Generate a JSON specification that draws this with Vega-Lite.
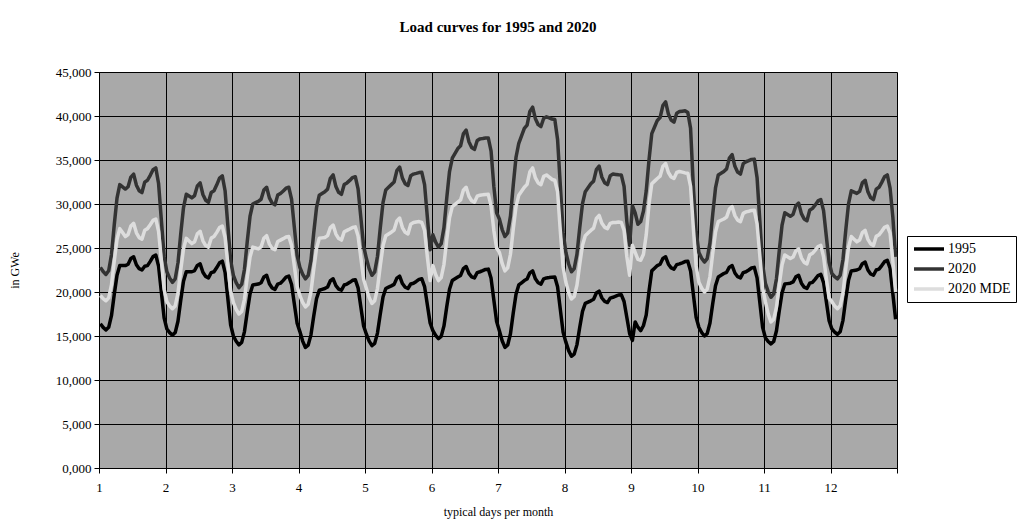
{
"$schema": "https://vega.github.io/schema/vega-lite/v6.json",
"width": 798, "height": 396,
"autosize": {"type": "none"},
"padding": {"left": 99, "top": 72, "right": 125, "bottom": 55},
"background": "white",
"title": {"text": "Load curves for 1995 and 2020", "font": "Liberation Serif", "fontSize": 15, "fontWeight": "bold", "anchor": "middle", "offset": 31, "color": "black"},
"data": {"values": [
{"t":0,"1995":16400,"2020":22800,"2020 MDE":19600},
{"t":1,"1995":15980,"2020":22320,"2020 MDE":19240},
{"t":2,"1995":15700,"2020":22000,"2020 MDE":19000},
{"t":3,"1995":15990,"2020":22410,"2020 MDE":19330},
{"t":4,"1995":17310,"2020":24240,"2020 MDE":20800},
{"t":5,"1995":19720,"2020":27610,"2020 MDE":23510},
{"t":6,"1995":21910,"2020":30670,"2020 MDE":25970},
{"t":7,"1995":23000,"2020":32200,"2020 MDE":27200},
{"t":8,"1995":23000,"2020":31950,"2020 MDE":26750},
{"t":9,"1995":23000,"2020":31700,"2020 MDE":26300},
{"t":10,"1995":23150,"2020":31960,"2020 MDE":26530},
{"t":11,"1995":23800,"2020":33060,"2020 MDE":27500},
{"t":12,"1995":24000,"2020":33400,"2020 MDE":27800},
{"t":13,"1995":23100,"2020":32140,"2020 MDE":26720},
{"t":14,"1995":22650,"2020":31510,"2020 MDE":26180},
{"t":15,"1995":22500,"2020":31300,"2020 MDE":26000},
{"t":16,"1995":22930,"2020":32490,"2020 MDE":27020},
{"t":17,"1995":23000,"2020":32700,"2020 MDE":27200},
{"t":18,"1995":23480,"2020":33260,"2020 MDE":27640},
{"t":19,"1995":24020,"2020":33890,"2020 MDE":28140},
{"t":20,"1995":24200,"2020":34100,"2020 MDE":28300},
{"t":21,"1995":22940,"2020":32330,"2020 MDE":26890},
{"t":22,"1995":20000,"2020":28200,"2020 MDE":23600},
{"t":23,"1995":17060,"2020":24070,"2020 MDE":20310},
{"t":24,"1995":15800,"2020":22300,"2020 MDE":18900},
{"t":25,"1995":15380,"2020":21580,"2020 MDE":18420},
{"t":26,"1995":15100,"2020":21100,"2020 MDE":18100},
{"t":27,"1995":15390,"2020":21500,"2020 MDE":18420},
{"t":28,"1995":16680,"2020":23300,"2020 MDE":19860},
{"t":29,"1995":19060,"2020":26600,"2020 MDE":22500},
{"t":30,"1995":21220,"2020":29600,"2020 MDE":24900},
{"t":31,"1995":22300,"2020":31100,"2020 MDE":26100},
{"t":32,"1995":22300,"2020":30900,"2020 MDE":25800},
{"t":33,"1995":22300,"2020":30700,"2020 MDE":25500},
{"t":34,"1995":22440,"2020":30960,"2020 MDE":25710},
{"t":35,"1995":23020,"2020":32060,"2020 MDE":26620},
{"t":36,"1995":23200,"2020":32400,"2020 MDE":26900},
{"t":37,"1995":22240,"2020":31080,"2020 MDE":25820},
{"t":38,"1995":21760,"2020":30420,"2020 MDE":25280},
{"t":39,"1995":21600,"2020":30200,"2020 MDE":25100},
{"t":40,"1995":22200,"2020":31310,"2020 MDE":26120},
{"t":41,"1995":22300,"2020":31500,"2020 MDE":26300},
{"t":42,"1995":22780,"2020":32180,"2020 MDE":26780},
{"t":43,"1995":23320,"2020":32950,"2020 MDE":27320},
{"t":44,"1995":23500,"2020":33200,"2020 MDE":27500},
{"t":45,"1995":22230,"2020":31510,"2020 MDE":26200},
{"t":46,"1995":19250,"2020":27550,"2020 MDE":23150},
{"t":47,"1995":16280,"2020":23600,"2020 MDE":20110},
{"t":48,"1995":15000,"2020":21900,"2020 MDE":18800},
{"t":49,"1995":14400,"2020":21060,"2020 MDE":18020},
{"t":50,"1995":14000,"2020":20500,"2020 MDE":17500},
{"t":51,"1995":14270,"2020":20880,"2020 MDE":17800},
{"t":52,"1995":15500,"2020":22590,"2020 MDE":19170},
{"t":53,"1995":17740,"2020":25730,"2020 MDE":21680},
{"t":54,"1995":19780,"2020":28580,"2020 MDE":23960},
{"t":55,"1995":20800,"2020":30000,"2020 MDE":25100},
{"t":56,"1995":20850,"2020":30150,"2020 MDE":25000},
{"t":57,"1995":20900,"2020":30300,"2020 MDE":24900},
{"t":58,"1995":21050,"2020":30540,"2020 MDE":25130},
{"t":59,"1995":21700,"2020":31580,"2020 MDE":26100},
{"t":60,"1995":21900,"2020":31900,"2020 MDE":26400},
{"t":61,"1995":20940,"2020":30700,"2020 MDE":25440},
{"t":62,"1995":20460,"2020":30100,"2020 MDE":24960},
{"t":63,"1995":20300,"2020":29900,"2020 MDE":24800},
{"t":64,"1995":20900,"2020":31010,"2020 MDE":25740},
{"t":65,"1995":21000,"2020":31200,"2020 MDE":25900},
{"t":66,"1995":21320,"2020":31480,"2020 MDE":26060},
{"t":67,"1995":21680,"2020":31800,"2020 MDE":26240},
{"t":68,"1995":21800,"2020":31900,"2020 MDE":26300},
{"t":69,"1995":20860,"2020":30540,"2020 MDE":25300},
{"t":70,"1995":18650,"2020":27350,"2020 MDE":22950},
{"t":71,"1995":16450,"2020":24170,"2020 MDE":20610},
{"t":72,"1995":15500,"2020":22800,"2020 MDE":19600},
{"t":73,"1995":14420,"2020":22020,"2020 MDE":18820},
{"t":74,"1995":13700,"2020":21500,"2020 MDE":18300},
{"t":75,"1995":13960,"2020":21880,"2020 MDE":18610},
{"t":76,"1995":15130,"2020":23590,"2020 MDE":20020},
{"t":77,"1995":17280,"2020":26730,"2020 MDE":22590},
{"t":78,"1995":19230,"2020":29580,"2020 MDE":24930},
{"t":79,"1995":20200,"2020":31000,"2020 MDE":26100},
{"t":80,"1995":20300,"2020":31200,"2020 MDE":26150},
{"t":81,"1995":20400,"2020":31400,"2020 MDE":26200},
{"t":82,"1995":20570,"2020":31690,"2020 MDE":26410},
{"t":83,"1995":21280,"2020":32920,"2020 MDE":27320},
{"t":84,"1995":21500,"2020":33300,"2020 MDE":27600},
{"t":85,"1995":20720,"2020":31980,"2020 MDE":26580},
{"t":86,"1995":20330,"2020":31320,"2020 MDE":26070},
{"t":87,"1995":20200,"2020":31100,"2020 MDE":25900},
{"t":88,"1995":20800,"2020":32210,"2020 MDE":26840},
{"t":89,"1995":20900,"2020":32400,"2020 MDE":27000},
{"t":90,"1995":21100,"2020":32680,"2020 MDE":27160},
{"t":91,"1995":21330,"2020":33000,"2020 MDE":27340},
{"t":92,"1995":21400,"2020":33100,"2020 MDE":27400},
{"t":93,"1995":20470,"2020":31710,"2020 MDE":26350},
{"t":94,"1995":18300,"2020":28450,"2020 MDE":23900},
{"t":95,"1995":16130,"2020":25200,"2020 MDE":21450},
{"t":96,"1995":15200,"2020":23800,"2020 MDE":20400},
{"t":97,"1995":14420,"2020":22660,"2020 MDE":19380},
{"t":98,"1995":13900,"2020":21900,"2020 MDE":18700},
{"t":99,"1995":14160,"2020":22290,"2020 MDE":19010},
{"t":100,"1995":15330,"2020":24030,"2020 MDE":20390},
{"t":101,"1995":17480,"2020":27240,"2020 MDE":22940},
{"t":102,"1995":19430,"2020":30150,"2020 MDE":25250},
{"t":103,"1995":20400,"2020":31600,"2020 MDE":26400},
{"t":104,"1995":20550,"2020":31900,"2020 MDE":26600},
{"t":105,"1995":20700,"2020":32200,"2020 MDE":26800},
{"t":106,"1995":20870,"2020":32500,"2020 MDE":27040},
{"t":107,"1995":21580,"2020":33800,"2020 MDE":28080},
{"t":108,"1995":21800,"2020":34200,"2020 MDE":28400},
{"t":109,"1995":20960,"2020":32940,"2020 MDE":27320},
{"t":110,"1995":20540,"2020":32310,"2020 MDE":26780},
{"t":111,"1995":20400,"2020":32100,"2020 MDE":26600},
{"t":112,"1995":20910,"2020":33210,"2020 MDE":27710},
{"t":113,"1995":21000,"2020":33400,"2020 MDE":27900},
{"t":114,"1995":21200,"2020":33480,"2020 MDE":27950},
{"t":115,"1995":21430,"2020":33570,"2020 MDE":28000},
{"t":116,"1995":21500,"2020":33600,"2020 MDE":27900},
{"t":117,"1995":20620,"2020":32200,"2020 MDE":27000},
{"t":118,"1995":18550,"2020":28500,"2020 MDE":24000},
{"t":119,"1995":16490,"2020":24800,"2020 MDE":21300},
{"t":120,"1995":15600,"2020":26500,"2020 MDE":23000},
{"t":121,"1995":15060,"2020":25660,"2020 MDE":21980},
{"t":122,"1995":14700,"2020":25100,"2020 MDE":21300},
{"t":123,"1995":14960,"2020":25500,"2020 MDE":21640},
{"t":124,"1995":16150,"2020":27320,"2020 MDE":23150},
{"t":125,"1995":18330,"2020":30660,"2020 MDE":25920},
{"t":126,"1995":20310,"2020":33690,"2020 MDE":28440},
{"t":127,"1995":21300,"2020":35200,"2020 MDE":29700},
{"t":128,"1995":21500,"2020":35750,"2020 MDE":29950},
{"t":129,"1995":21700,"2020":36300,"2020 MDE":30200},
{"t":130,"1995":21880,"2020":36620,"2020 MDE":30460},
{"t":131,"1995":22660,"2020":37980,"2020 MDE":31560},
{"t":132,"1995":22900,"2020":38400,"2020 MDE":31900},
{"t":133,"1995":22120,"2020":37080,"2020 MDE":30880},
{"t":134,"1995":21730,"2020":36420,"2020 MDE":30370},
{"t":135,"1995":21600,"2020":36200,"2020 MDE":30200},
{"t":136,"1995":22200,"2020":37220,"2020 MDE":30880},
{"t":137,"1995":22300,"2020":37400,"2020 MDE":31000},
{"t":138,"1995":22420,"2020":37440,"2020 MDE":31040},
{"t":139,"1995":22560,"2020":37490,"2020 MDE":31090},
{"t":140,"1995":22600,"2020":37500,"2020 MDE":31100},
{"t":141,"1995":21550,"2020":36000,"2020 MDE":29800},
{"t":142,"1995":19100,"2020":32000,"2020 MDE":27000},
{"t":143,"1995":16650,"2020":29000,"2020 MDE":25000},
{"t":144,"1995":15600,"2020":28300,"2020 MDE":24500},
{"t":145,"1995":14460,"2020":27100,"2020 MDE":23240},
{"t":146,"1995":13700,"2020":26300,"2020 MDE":22400},
{"t":147,"1995":13980,"2020":26720,"2020 MDE":22740},
{"t":148,"1995":15260,"2020":28630,"2020 MDE":24290},
{"t":149,"1995":17610,"2020":32130,"2020 MDE":27130},
{"t":150,"1995":19740,"2020":35310,"2020 MDE":29710},
{"t":151,"1995":20800,"2020":36900,"2020 MDE":31000},
{"t":152,"1995":21050,"2020":37750,"2020 MDE":31450},
{"t":153,"1995":21300,"2020":38600,"2020 MDE":31900},
{"t":154,"1995":21470,"2020":38960,"2020 MDE":32230},
{"t":155,"1995":22180,"2020":40520,"2020 MDE":33660},
{"t":156,"1995":22400,"2020":41000,"2020 MDE":34100},
{"t":157,"1995":21500,"2020":39680,"2020 MDE":32960},
{"t":158,"1995":21050,"2020":39020,"2020 MDE":32390},
{"t":159,"1995":20900,"2020":38800,"2020 MDE":32200},
{"t":160,"1995":21500,"2020":39740,"2020 MDE":33140},
{"t":161,"1995":21600,"2020":39900,"2020 MDE":33300},
{"t":162,"1995":21640,"2020":39780,"2020 MDE":33060},
{"t":163,"1995":21690,"2020":39650,"2020 MDE":32790},
{"t":164,"1995":21700,"2020":39600,"2020 MDE":32700},
{"t":165,"1995":20590,"2020":37340,"2020 MDE":31400},
{"t":166,"1995":18000,"2020":32050,"2020 MDE":26900},
{"t":167,"1995":15410,"2020":26770,"2020 MDE":22840},
{"t":168,"1995":14300,"2020":24500,"2020 MDE":21100},
{"t":169,"1995":13340,"2020":23180,"2020 MDE":19960},
{"t":170,"1995":12700,"2020":22300,"2020 MDE":19200},
{"t":171,"1995":12940,"2020":22660,"2020 MDE":19490},
{"t":172,"1995":14020,"2020":24300,"2020 MDE":20780},
{"t":173,"1995":16000,"2020":27310,"2020 MDE":23160},
{"t":174,"1995":17800,"2020":30040,"2020 MDE":25320},
{"t":175,"1995":18700,"2020":31400,"2020 MDE":26400},
{"t":176,"1995":18850,"2020":31850,"2020 MDE":26700},
{"t":177,"1995":19000,"2020":32300,"2020 MDE":27000},
{"t":178,"1995":19170,"2020":32600,"2020 MDE":27260},
{"t":179,"1995":19880,"2020":33900,"2020 MDE":28360},
{"t":180,"1995":20100,"2020":34300,"2020 MDE":28700},
{"t":181,"1995":19320,"2020":33040,"2020 MDE":27800},
{"t":182,"1995":18930,"2020":32410,"2020 MDE":27350},
{"t":183,"1995":18800,"2020":32200,"2020 MDE":27200},
{"t":184,"1995":19310,"2020":33220,"2020 MDE":27800},
{"t":185,"1995":19400,"2020":33400,"2020 MDE":27900},
{"t":186,"1995":19520,"2020":33360,"2020 MDE":27900},
{"t":187,"1995":19660,"2020":33320,"2020 MDE":27950},
{"t":188,"1995":19700,"2020":33300,"2020 MDE":27900},
{"t":189,"1995":18920,"2020":32000,"2020 MDE":27000},
{"t":190,"1995":17100,"2020":28000,"2020 MDE":24000},
{"t":191,"1995":15280,"2020":25300,"2020 MDE":21900},
{"t":192,"1995":14500,"2020":29800,"2020 MDE":25300},
{"t":193,"1995":16600,"2020":29000,"2020 MDE":24500},
{"t":194,"1995":16000,"2020":27700,"2020 MDE":23700},
{"t":195,"1995":15600,"2020":28000,"2020 MDE":23600},
{"t":196,"1995":16200,"2020":29200,"2020 MDE":24300},
{"t":197,"1995":17400,"2020":31500,"2020 MDE":26500},
{"t":198,"1995":20100,"2020":35000,"2020 MDE":30000},
{"t":199,"1995":22400,"2020":38000,"2020 MDE":32300},
{"t":200,"1995":22700,"2020":38750,"2020 MDE":32600},
{"t":201,"1995":23000,"2020":39500,"2020 MDE":32900},
{"t":202,"1995":23150,"2020":39820,"2020 MDE":33160},
{"t":203,"1995":23800,"2020":41180,"2020 MDE":34260},
{"t":204,"1995":24000,"2020":41600,"2020 MDE":34600},
{"t":205,"1995":23160,"2020":40220,"2020 MDE":33580},
{"t":206,"1995":22740,"2020":39530,"2020 MDE":33070},
{"t":207,"1995":22600,"2020":39300,"2020 MDE":32900},
{"t":208,"1995":23110,"2020":40320,"2020 MDE":33580},
{"t":209,"1995":23200,"2020":40500,"2020 MDE":33700},
{"t":210,"1995":23320,"2020":40550,"2020 MDE":33620},
{"t":211,"1995":23460,"2020":40600,"2020 MDE":33530},
{"t":212,"1995":23500,"2020":40400,"2020 MDE":33500},
{"t":213,"1995":22380,"2020":38600,"2020 MDE":32000},
{"t":214,"1995":19750,"2020":32000,"2020 MDE":27300},
{"t":215,"1995":17130,"2020":26900,"2020 MDE":22960},
{"t":216,"1995":16000,"2020":24500,"2020 MDE":21100},
{"t":217,"1995":15400,"2020":23840,"2020 MDE":20440},
{"t":218,"1995":15000,"2020":23400,"2020 MDE":20000},
{"t":219,"1995":15270,"2020":23800,"2020 MDE":20320},
{"t":220,"1995":16470,"2020":25580,"2020 MDE":21760},
{"t":221,"1995":18690,"2020":28850,"2020 MDE":24400},
{"t":222,"1995":20700,"2020":31820,"2020 MDE":26800},
{"t":223,"1995":21700,"2020":33300,"2020 MDE":28000},
{"t":224,"1995":21900,"2020":33500,"2020 MDE":28150},
{"t":225,"1995":22100,"2020":33700,"2020 MDE":28300},
{"t":226,"1995":22240,"2020":33990,"2020 MDE":28510},
{"t":227,"1995":22820,"2020":35220,"2020 MDE":29420},
{"t":228,"1995":23000,"2020":35600,"2020 MDE":29700},
{"t":229,"1995":22160,"2020":34280,"2020 MDE":28680},
{"t":230,"1995":21740,"2020":33620,"2020 MDE":28170},
{"t":231,"1995":21600,"2020":33400,"2020 MDE":28000},
{"t":232,"1995":22200,"2020":34590,"2020 MDE":28940},
{"t":233,"1995":22300,"2020":34800,"2020 MDE":29100},
{"t":234,"1995":22500,"2020":34920,"2020 MDE":29180},
{"t":235,"1995":22730,"2020":35060,"2020 MDE":29270},
{"t":236,"1995":22800,"2020":35100,"2020 MDE":29300},
{"t":237,"1995":21600,"2020":32990,"2020 MDE":27740},
{"t":238,"1995":18800,"2020":28050,"2020 MDE":24100},
{"t":239,"1995":16000,"2020":23120,"2020 MDE":20460},
{"t":240,"1995":14800,"2020":21000,"2020 MDE":18900},
{"t":241,"1995":14380,"2020":20040,"2020 MDE":17520},
{"t":242,"1995":14100,"2020":19400,"2020 MDE":16600},
{"t":243,"1995":14370,"2020":19780,"2020 MDE":16900},
{"t":244,"1995":15600,"2020":21510,"2020 MDE":18270},
{"t":245,"1995":17840,"2020":24680,"2020 MDE":20780},
{"t":246,"1995":19880,"2020":27560,"2020 MDE":23060},
{"t":247,"1995":20900,"2020":29000,"2020 MDE":24200},
{"t":248,"1995":20950,"2020":28800,"2020 MDE":24000},
{"t":249,"1995":21000,"2020":28600,"2020 MDE":23800},
{"t":250,"1995":21140,"2020":28830,"2020 MDE":23970},
{"t":251,"1995":21720,"2020":29800,"2020 MDE":24680},
{"t":252,"1995":21900,"2020":30100,"2020 MDE":24900},
{"t":253,"1995":21000,"2020":28900,"2020 MDE":23880},
{"t":254,"1995":20550,"2020":28300,"2020 MDE":23370},
{"t":255,"1995":20400,"2020":28100,"2020 MDE":23200},
{"t":256,"1995":21000,"2020":29290,"2020 MDE":24220},
{"t":257,"1995":21100,"2020":29500,"2020 MDE":24400},
{"t":258,"1995":21460,"2020":29900,"2020 MDE":24760},
{"t":259,"1995":21870,"2020":30350,"2020 MDE":25170},
{"t":260,"1995":22000,"2020":30500,"2020 MDE":25300},
{"t":261,"1995":21070,"2020":29240,"2020 MDE":24000},
{"t":262,"1995":18900,"2020":26300,"2020 MDE":21500},
{"t":263,"1995":16730,"2020":23360,"2020 MDE":19300},
{"t":264,"1995":15800,"2020":22100,"2020 MDE":18900},
{"t":265,"1995":15440,"2020":21740,"2020 MDE":18420},
{"t":266,"1995":15200,"2020":21500,"2020 MDE":18100},
{"t":267,"1995":15490,"2020":21900,"2020 MDE":18430},
{"t":268,"1995":16780,"2020":23700,"2020 MDE":19900},
{"t":269,"1995":19160,"2020":27000,"2020 MDE":22610},
{"t":270,"1995":21320,"2020":30000,"2020 MDE":25070},
{"t":271,"1995":22400,"2020":31500,"2020 MDE":26300},
{"t":272,"1995":22450,"2020":31350,"2020 MDE":26000},
{"t":273,"1995":22500,"2020":31200,"2020 MDE":25700},
{"t":274,"1995":22640,"2020":31430,"2020 MDE":25900},
{"t":275,"1995":23220,"2020":32400,"2020 MDE":26740},
{"t":276,"1995":23400,"2020":32700,"2020 MDE":27000},
{"t":277,"1995":22500,"2020":31380,"2020 MDE":25980},
{"t":278,"1995":22050,"2020":30720,"2020 MDE":25470},
{"t":279,"1995":21900,"2020":30500,"2020 MDE":25300},
{"t":280,"1995":22500,"2020":31690,"2020 MDE":26320},
{"t":281,"1995":22600,"2020":31900,"2020 MDE":26500},
{"t":282,"1995":23000,"2020":32460,"2020 MDE":26900},
{"t":283,"1995":23450,"2020":33090,"2020 MDE":27350},
{"t":284,"1995":23600,"2020":33300,"2020 MDE":27500},
{"t":285,"1995":22700,"2020":31800,"2020 MDE":26700},
{"t":286,"1995":19800,"2020":28500,"2020 MDE":23500},
{"t":287,"1995":16900,"2020":24000,"2020 MDE":20000}
]},
"transform": [{"fold": ["1995", "2020", "2020 MDE"], "as": ["series", "load"]}],
"mark": {"type": "line", "strokeWidth": 3.5, "strokeJoin": "round", "strokeCap": "butt"},
"encoding": {
  "x": {"field": "t", "type": "quantitative",
    "scale": {"domain": [-0.5, 287.5], "nice": false, "zero": false},
    "axis": {"values": [-0.5, 23.5, 47.5, 71.5, 95.5, 119.5, 143.5, 167.5, 191.5, 215.5, 239.5, 263.5, 287.5],
      "labelExpr": "datum.value > 287 ? '' : format((datum.value + 0.5) / 24 + 1, 'd')",
      "title": "typical days per month", "titlePadding": 12, "labelFlush": false, "labelOverlap": false, "labelPadding": 8}},
  "y": {"field": "load", "type": "quantitative",
    "scale": {"domain": [0, 45000], "nice": false},
    "axis": {"values": [0, 5000, 10000, 15000, 20000, 25000, 30000, 35000, 40000, 45000],
      "labelExpr": "datum.value == 0 ? '0,000' : format(datum.value, ',')",
      "title": "in GWe", "titleX": -78, "titleY": 198, "labelPadding": 3}},
  "color": {"field": "series", "type": "nominal",
    "scale": {"domain": ["1995", "2020", "2020 MDE"], "range": ["#000000", "#333333", "#dddddd"]},
    "legend": {"title": null, "orient": "none", "legendX": 808, "legendY": 164, "symbolType": "stroke", "symbolSize": 900, "symbolStrokeWidth": 3.5, "clipHeight": 16,
      "strokeColor": "black", "fillColor": "white", "padding": 5, "rowPadding": 4, "labelFont": "Liberation Serif", "labelFontSize": 14, "labelColor": "black", "labelOffset": 2}}
},
"config": {
  "view": {"fill": "#a9a9a9", "stroke": null},
  "axis": {"domainColor": "black", "tickColor": "black", "tickSize": 5, "gridColor": "black", "gridOpacity": 1, "gridWidth": 1,
    "labelFont": "Liberation Serif", "labelFontSize": 13, "labelColor": "black",
    "titleFont": "Liberation Serif", "titleFontSize": 12, "titleFontWeight": "normal", "titleColor": "black"}
}
}
